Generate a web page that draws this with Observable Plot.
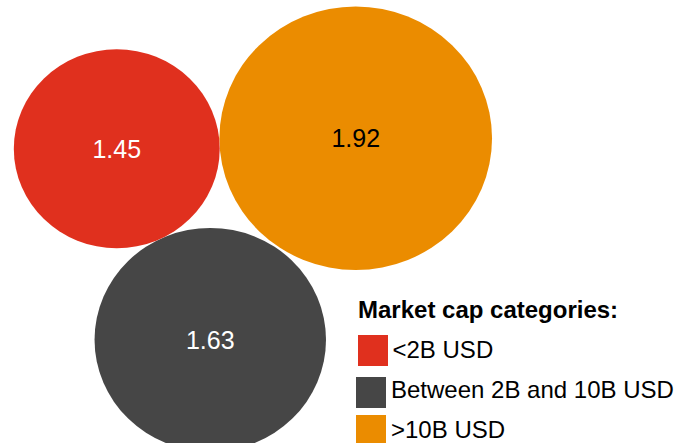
<!DOCTYPE html>
<html>
<head>
<meta charset="utf-8">
<script src="https://cdn.jsdelivr.net/npm/d3@7"></script>
<script src="https://cdn.jsdelivr.net/npm/@observablehq/plot@0.6"></script>
<style>
  html, body { margin: 0; padding: 0; background: #fff; }
  #wrap { position: relative; width: 688px; height: 443px; overflow: hidden; font-family: "Liberation Sans", Arial, sans-serif; }
  #wrap svg circle { transform-box: fill-box; transform-origin: center; transform: scaleX(1.035); }
  .lg-title { position: absolute; font-weight: bold; font-size: 24px; line-height: 24px; color: #000; white-space: nowrap; }
  .lg-sw { position: absolute; }
  .lg-tx { position: absolute; font-size: 24px; line-height: 24px; color: #000; white-space: nowrap; }
</style>
</head>
<body>
<div id="wrap"></div>
<script>
// Data
const categories = ["<2B USD", "Between 2B and 10B USD", ">10B USD"];
const values = [1.45, 1.63, 1.92];
const colors = ["#E0301E", "#464646", "#EB8C00"];
// bubble layout positions (layout units)
const bubbleX = [1.69, 3.049, 5.163];
const bubbleY = [2.155, 4.932, 2.003];
const legendTitle = "Market cap categories:";

const data = categories.map((c, i) => ({cat: c, value: values[i], x: bubbleX[i], y: bubbleY[i]}));

const W = 688, H = 443;
const chart = Plot.plot({
  width: W,
  height: H,
  margin: 0,
  x: {domain: [0, 10], range: [0, W], axis: null},
  y: {domain: [0, 6.44], range: [0, H], axis: null},
  r: {type: "linear", domain: [0, 2], range: [0, 137.2]},
  color: {domain: categories, range: colors},
  style: {fontFamily: "Liberation Sans, Arial, sans-serif", background: "transparent"},
  marks: [
    Plot.dot(data, {x: "x", y: "y", r: "value", fill: "cat", stroke: "none"}),
    Plot.text(data, {
      x: "x", y: "y",
      text: d => d3.format(".2f")(d.value),
      fill: d => d.cat === ">10B USD" ? "#000" : "#fff",
      fontSize: 25,
      dy: 1
    })
  ]
});

const wrap = document.getElementById("wrap");
wrap.appendChild(chart);

// Legend (overlaid in the lower right of the chart)
const t = document.createElement("div");
t.className = "lg-title";
t.textContent = legendTitle;
t.style.left = "358px";
t.style.top = "298px";
wrap.appendChild(t);

const swatchBoxes = [[358, 335, 30, 31], [356, 377, 30, 31], [356, 415, 30, 28]];
const textPos = [[392.5, 338], [391, 378], [391, 418]];
categories.forEach((c, i) => {
  const s = document.createElement("div");
  s.className = "lg-sw";
  const [l, tp, w, h] = swatchBoxes[i];
  s.style.left = l + "px"; s.style.top = tp + "px";
  s.style.width = w + "px"; s.style.height = h + "px";
  s.style.background = colors[i];
  wrap.appendChild(s);
  const tx = document.createElement("div");
  tx.className = "lg-tx";
  tx.textContent = c;
  tx.style.left = textPos[i][0] + "px";
  tx.style.top = textPos[i][1] + "px";
  wrap.appendChild(tx);
});
</script>
</body>
</html>
